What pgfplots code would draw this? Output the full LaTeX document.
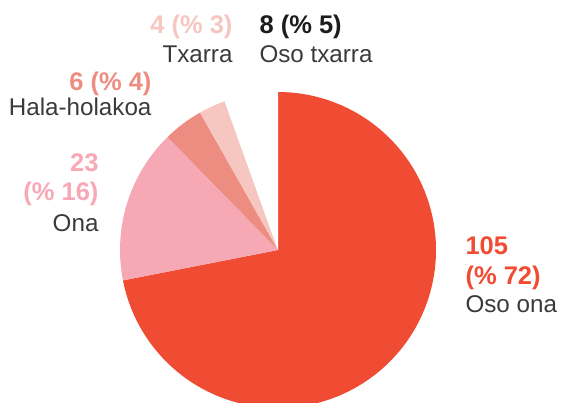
\documentclass[border=0pt]{standalone}
\usepackage{pgfplots}
\usepackage{pgfplotstable}
\pgfplotsset{compat=1.18}
\usepackage{fontspec}
\setmainfont{Liberation Sans}
\definecolor{cRed}{HTML}{F04C34}
\definecolor{cOna}{HTML}{F6A9B5}
\definecolor{cHala}{HTML}{ED8C80}
\definecolor{cTx}{HTML}{F6C6C1}
\definecolor{cOna2}{HTML}{F7A8B4}
\definecolor{cTxt}{HTML}{3A3A3A}
\definecolor{cBlk}{HTML}{1C1C1C}

\pgfplotstableread{
label value
OsoOna 105
Ona 23
HalaHolakoa 6
Txarra 4
OsoTxarra 8
}\piedata
\pgfplotstablegetelem{0}{value}\of\piedata \let\va\pgfplotsretval
\pgfplotstablegetelem{1}{value}\of\piedata \let\vb\pgfplotsretval
\pgfplotstablegetelem{2}{value}\of\piedata \let\vc\pgfplotsretval
\pgfplotstablegetelem{3}{value}\of\piedata \let\vd\pgfplotsretval
\pgfplotstablegetelem{4}{value}\of\piedata \let\ve\pgfplotsretval
\pgfmathsetmacro\total{\va+\vb+\vc+\vd+\ve}
\pgfmathsetmacro\aA{360/\total*\va}
\pgfmathsetmacro\aB{\aA+360/\total*\vb}
\pgfmathsetmacro\aC{\aB+360/\total*\vc}
\pgfmathsetmacro\aD{\aC+360/\total*\vd}
\def\cx{278}\def\cy{250}\def\rr{158}
\def\bfs{\fontsize{25.5bp}{29bp}\selectfont\bfseries}
\def\rgs{\fontsize{24.2bp}{29bp}\selectfont}

\begin{document}%
\begin{tikzpicture}
\begin{axis}[
  name=ax,
  scale only axis, width=565bp, height=403bp,
  xmin=0, xmax=565, ymin=0, ymax=403, y dir=reverse,
  xtick=\empty, ytick=\empty,
  hide axis, clip=true,
  every node/.style={inner sep=0pt, outer sep=0pt},
]
\addplot[fill=cRed, draw=none, domain=0:\aA, samples=150]
  ({\cx+\rr*sin(x)}, {\cy-\rr*cos(x)}) -- (\cx,\cy) -- cycle;
\addplot[fill=cOna, draw=none, domain=\aA:\aB, samples=60]
  ({\cx+\rr*sin(x)}, {\cy-\rr*cos(x)}) -- (\cx,\cy) -- cycle;
\addplot[fill=cHala, draw=none, domain=\aB:\aC, samples=20]
  ({\cx+\rr*sin(x)}, {\cy-\rr*cos(x)}) -- (\cx,\cy) -- cycle;
\addplot[fill=cTx, draw=none, domain=\aC:\aD, samples=20]
  ({\cx+\rr*sin(x)}, {\cy-\rr*cos(x)}) -- (\cx,\cy) -- cycle;
\addplot[fill=white, draw=none, domain=\aD:360, samples=20]
  ({\cx+\rr*sin(x)}, {\cy-\rr*cos(x)}) -- (\cx,\cy) -- cycle;

\node[anchor=base east, text=cTx] at (236,33) {\bfs 4 (\% 3)};
\node[anchor=base east, text=cTxt] at (236,62) {\rgs Txarra};
\node[anchor=base west, text=cBlk] at (256,33) {\bfs 8 (\% 5)};
\node[anchor=base west, text=cTxt] at (256,62) {\rgs Oso txarra};
\node[anchor=base east, text=cHala] at (155,90) {\bfs 6 (\% 4)};
\node[anchor=base east, text=cTxt] at (155,115) {\rgs Hala-holakoa};
\node[anchor=base east, text=cOna2] at (102,171) {\bfs 23};
\node[anchor=base east, text=cOna2] at (102,200) {\bfs (\% 16)};
\node[anchor=base east, text=cTxt] at (102,231) {\rgs Ona};
\node[anchor=base west, text=cRed] at (462,254) {\bfs 105};
\node[anchor=base west, text=cRed] at (462,284) {\bfs (\% 72)};
\node[anchor=base west, text=cTxt] at (462,312) {\rgs Oso ona};
\end{axis}
\pgfresetboundingbox
\path[use as bounding box] (ax.south west) rectangle (ax.north east);
\end{tikzpicture}%
\end{document}
